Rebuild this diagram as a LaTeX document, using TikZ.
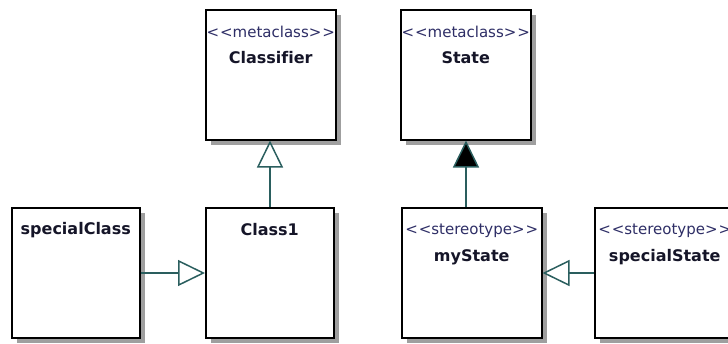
\documentclass[tikz,border=0pt]{standalone}
\usepackage{fontspec}
\setmainfont[Ligatures=NoCommon]{DejaVu Sans}
\usetikzlibrary{arrows.meta,shadows}
\definecolor{conn}{HTML}{2A5E5E}
\definecolor{stereo}{HTML}{2E2E66}
\definecolor{nametext}{HTML}{151528}
\newcommand{\lguil}{{<}\kern1pt{<}}
\newcommand{\rguil}{{>}\kern1pt{>}}
\tikzset{
  umlbox/.style={draw=black, line width=1.5pt, fill=white, anchor=north west,
    inner sep=0pt, minimum height=130pt,
    drop shadow={shadow xshift=5pt, shadow yshift=-5pt, fill=gray!75, opacity=1}},
  stereotxt/.style={font=\fontsize{15}{15}\selectfont, text=stereo, inner sep=0pt},
  nametxt/.style={font=\fontsize{16}{16}\selectfont\bfseries, text=nametext, inner sep=0pt},
  gen/.style={draw=conn, line width=1.5pt, -{Triangle[open, length=27pt, width=26pt, line width=1.5pt]}},
  genfill/.style={draw=conn, line width=1.5pt, -{Triangle[length=27pt, width=26pt, line width=1.5pt, fill=black]}}
}
\begin{document}
\begin{tikzpicture}[x=1pt,y=-1pt]
\useasboundingbox (0,0) rectangle (728,343);
\clip (0,0) rectangle (728,343);
% boxes
\node[umlbox, minimum width=130pt] (classifier) at (205,9) {};
\node[umlbox, minimum width=130pt] (state) at (400,9) {};
\node[umlbox, minimum width=128pt] (specialclass) at (11,207) {};
\node[umlbox, minimum width=128pt] (class1) at (205,207) {};
\node[umlbox, minimum width=140pt] (mystate) at (401,207) {};
\node[umlbox, minimum width=140pt] (specialstate) at (594,207) {};
% texts
\node[stereotxt] (classifierst) at ([yshift=-23pt]classifier.north) {\lguil metaclass\rguil};
\node[nametxt] (classifiernm) at ([yshift=-49pt]classifier.north) {Classifier};
\node[stereotxt] (statest) at ([yshift=-23pt]state.north) {\lguil metaclass\rguil};
\node[nametxt] (statenm) at ([yshift=-49pt]state.north) {State};
\node[nametxt] (specialclassnm) at ([yshift=-23pt]specialclass.north) {specialClass};
\node[nametxt] (class1nm) at ([yshift=-23pt]class1.north) {Class1};
\node[stereotxt] (mystatest) at ([yshift=-24pt]mystate.north) {\lguil stereotype\rguil};
\node[nametxt] (mystatenm) at ([yshift=-50pt]mystate.north) {myState};
\node[stereotxt] (specialstatest) at ([yshift=-24pt]specialstate.north) {\lguil stereotype\rguil};
\node[nametxt] (specialstatenm) at ([yshift=-50pt]specialstate.north) {specialState};
% connectors
\draw[gen] (class1.north -| 270,0) -- (classifier.south -| 270,0);
\draw[genfill] (mystate.north -| 466,0) -- (state.south -| 466,0);
\draw[gen] (specialclass.east |- 0,273) -- (class1.west |- 0,273);
\draw[gen] (specialstate.west |- 0,273) -- (mystate.east |- 0,273);
\end{tikzpicture}
\end{document}
